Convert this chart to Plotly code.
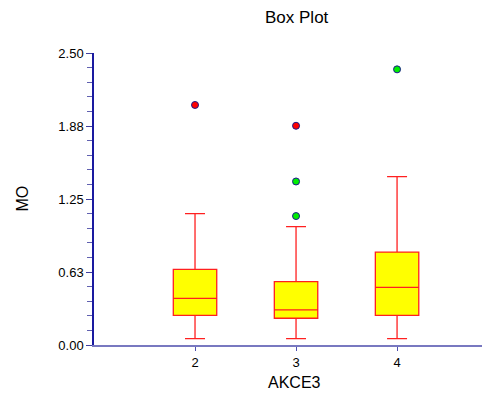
import plotly.graph_objects as go

categories = [2, 3, 4]
q1 = [0.254, 0.229, 0.254]
median = [0.400, 0.300, 0.494]
q3 = [0.648, 0.542, 0.796]
lower_whisker = [0.054, 0.054, 0.054]
upper_whisker = [1.124, 1.013, 1.441]

near_out_x = [3, 3, 4]
near_out_y = [1.104, 1.400, 2.360]
far_out_x = [2, 3]
far_out_y = [2.055, 1.877]

ytick_vals = [0.0, 0.625, 1.25, 1.875, 2.5]
ytick_text = ["0.00", "0.63", "1.25", "1.88", "2.50"]

fig = go.Figure()
fig.add_trace(go.Box(
    x=categories, q1=q1, median=median, q3=q3,
    lowerfence=lower_whisker, upperfence=upper_whisker,
    width=0.43, whiskerwidth=0.46, boxpoints=False,
    fillcolor="#ffff00", line=dict(color="#ff2020", width=1.3),
    showlegend=False, hoverinfo="skip",
))
fig.add_trace(go.Scatter(
    x=near_out_x, y=near_out_y, mode="markers",
    marker=dict(size=7, color="#00ee00", line=dict(color="#1a1a8c", width=1)),
    showlegend=False,
))
fig.add_trace(go.Scatter(
    x=far_out_x, y=far_out_y, mode="markers",
    marker=dict(size=7, color="#ff0000", line=dict(color="#1a1a8c", width=1)),
    showlegend=False,
))

fig.update_layout(
    width=482, height=387,
    margin=dict(l=86, r=0, t=45, b=50),
    paper_bgcolor="white", plot_bgcolor="white",
    font=dict(family="Arial, Liberation Sans, sans-serif", size=13, color="black"),
    xaxis=dict(
        range=[1.0, 4.92], tickvals=categories, ticktext=[str(c) for c in categories],
        showgrid=False, zeroline=False, showline=True, linecolor="#7878c0", linewidth=2,
        ticks="outside", ticklen=4, tickcolor="#5050b0", tickwidth=1,
        tickfont=dict(size=13),
    ),
    yaxis=dict(
        range=[0, 2.5], tickvals=ytick_vals, ticktext=ytick_text,
        showgrid=False, zeroline=False, showline=True, linecolor="#1a1aa0", linewidth=1.5,
        ticks="outside", ticklen=6, tickcolor="#4040a0", tickwidth=1,
        tickfont=dict(size=13),
        minor=dict(dtick=0.125, tick0=0, ticks="outside", ticklen=5, tickcolor="#6060b0", showgrid=False),
    ),
    annotations=[
        dict(text="Box Plot", xref="paper", yref="paper", x=0.5, y=1, xshift=4.5, yshift=36,
             xanchor="center", yanchor="middle", showarrow=False, font=dict(size=17)),
        dict(text="MO", xref="paper", yref="paper", x=0, y=0.5, xshift=-72.5,
             xanchor="center", yanchor="middle", textangle=-90, showarrow=False, font=dict(size=16)),
        dict(text="AKCE3", xref="paper", yref="paper", x=0.5, y=0, xshift=2.5, yshift=-37,
             xanchor="center", yanchor="middle", showarrow=False, font=dict(size=16)),
    ],
)

fig.write_html("out.html")
